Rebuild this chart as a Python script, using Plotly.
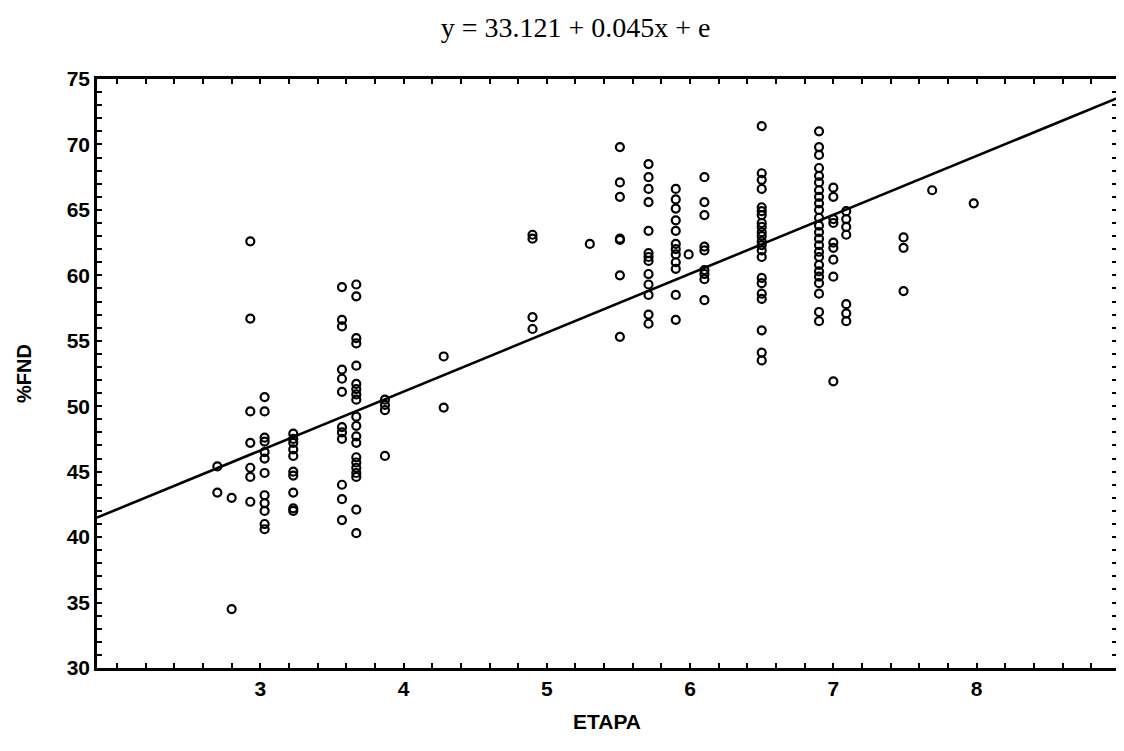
import plotly.graph_objects as go

# Regression from the chart title
intercept = 33.121
slope = 0.045

# x positions (days) of each column of observations and the %FND values read in that column
col_days = [270, 280, 293, 303, 323, 357, 367, 387, 428, 490, 530, 551, 571, 590, 599,
            610, 650, 690, 700, 709, 749, 769, 798]
col_values = [
    [45.4, 43.4],
    [43.0, 34.5],
    [62.6, 56.7, 49.6, 47.2, 45.3, 44.6, 42.7],
    [50.7, 49.6, 47.6, 47.3, 46.5, 46.0, 44.9, 43.2, 42.6, 42.0, 41.0, 40.6],
    [47.9, 47.5, 47.2, 46.7, 46.2, 45.0, 44.7, 43.4, 42.2, 42.0],
    [59.1, 56.6, 56.1, 52.8, 52.1, 51.1, 48.4, 48.0, 47.5, 44.0, 42.9, 41.3],
    [59.3, 58.4, 55.2, 54.8, 53.1, 51.7, 51.3, 50.9, 50.5, 49.2, 48.5, 47.7, 47.2,
     46.1, 45.7, 45.3, 44.9, 44.6, 42.1, 40.3],
    [50.5, 50.1, 49.7, 46.2],
    [53.8, 49.9],
    [63.1, 62.8, 56.8, 55.9],
    [62.4],
    [69.8, 67.1, 66.0, 62.8, 62.7, 60.0, 55.3],
    [68.5, 67.5, 66.6, 65.6, 63.4, 61.7, 61.4, 61.1, 60.1, 59.3, 58.5, 57.0, 56.3],
    [66.6, 65.8, 65.1, 64.2, 63.4, 62.4, 62.0, 61.6, 61.0, 60.5, 58.5, 56.6],
    [61.6],
    [67.5, 65.6, 64.6, 62.2, 61.9, 60.4, 60.1, 59.7, 58.1],
    [71.4, 67.8, 67.3, 66.6, 65.2, 64.9, 64.6, 64.0, 63.7, 63.3, 63.0, 62.6, 62.3,
     61.9, 61.4, 59.8, 59.4, 58.6, 58.2, 55.8, 54.1, 53.5],
    [71.0, 69.8, 69.2, 68.2, 67.6, 67.1, 66.5, 66.0, 65.5, 65.0, 64.4, 63.8, 63.3,
     62.8, 62.3, 61.8, 61.4, 60.8, 60.3, 59.9, 59.4, 58.6, 57.2, 56.5],
    [66.7, 66.0, 64.3, 64.0, 62.5, 62.1, 61.2, 59.9, 51.9],
    [64.9, 64.3, 63.7, 63.1, 57.8, 57.1, 56.5],
    [62.9, 62.1, 58.8],
    [66.5],
    [65.5],
]

x_range = [186, 898]
y_range = [30, 75]
tick_days = [300, 400, 500, 600, 700, 800]
tick_labels = ["3", "4", "5", "6", "7", "8"]
y_ticks = [30, 35, 40, 45, 50, 55, 60, 65, 70, 75]

xs, ys = [], []
for d, vals in zip(col_days, col_values):
    for v in vals:
        xs.append(d)
        ys.append(v)

line_x = x_range
line_y = [intercept + slope * x for x in line_x]

fig = go.Figure()
fig.add_trace(go.Scatter(x=line_x, y=line_y, mode="lines",
                         line=dict(color="black", width=2.6), hoverinfo="skip"))
fig.add_trace(go.Scatter(x=xs, y=ys, mode="markers",
                         marker=dict(symbol="circle-open", size=8, color="black",
                                     line=dict(width=2.2, color="black"))))

sans = "Liberation Sans, Arial, sans-serif"
tickfont = dict(family=sans, size=21, color="black")

fig.update_layout(
    width=1124, height=751,
    margin=dict(l=89, r=12, t=71, b=91),
    paper_bgcolor="white", plot_bgcolor="white",
    showlegend=False,
    title=dict(text="y = 33.121 + 0.045x + e", x=0.505, xanchor="center", y=0.974,
               yanchor="middle",
               font=dict(family="Liberation Serif, Times New Roman, serif", size=28,
                         color="black")),
    xaxis=dict(range=x_range, tickvals=tick_days,
               ticktext=[f"<b>{t}</b>" for t in tick_labels],
               showgrid=False, zeroline=False, showline=True, linecolor="black",
               linewidth=2.5, mirror="allticks", ticks="inside", ticklen=5,
               tickwidth=1.8, tickcolor="black", tickfont=tickfont,
               minor=dict(dtick=20, tick0=0, ticks="inside", ticklen=5,
                          tickwidth=1.8, tickcolor="black"),
               title=dict(text="<b>ETAPA</b>", standoff=16,
                          font=dict(family=sans, size=21, color="black"))),
    yaxis=dict(range=y_range, tickvals=y_ticks,
               ticktext=[f"<b>{v}</b>" for v in y_ticks],
               showgrid=False, zeroline=False, showline=True, linecolor="black",
               linewidth=2.5, mirror="allticks", ticks="inside", ticklen=5,
               tickwidth=1.8, tickcolor="black", tickfont=tickfont,
               minor=dict(dtick=1, tick0=0, ticks="inside", ticklen=5,
                          tickwidth=1.8, tickcolor="black"),
               title=dict(text="<b>%FND</b>", standoff=30,
                          font=dict(family=sans, size=20, color="black"))),
)

fig.write_html("out.html")
